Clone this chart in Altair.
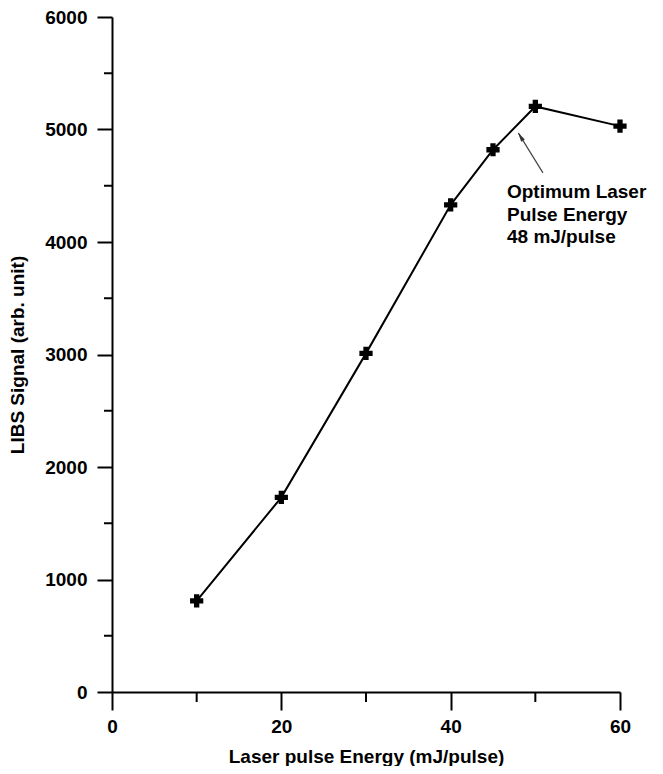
import altair as alt
import pandas as pd

# Data
energy = [10, 20, 30, 40, 45, 50, 60]
signal = [810, 1730, 3010, 4330, 4820, 5205, 5030]

x_major = [0, 20, 40, 60]
x_minor = [10, 30, 50]
y_major = [0, 1000, 2000, 3000, 4000, 5000, 6000]
y_minor = [500, 1500, 2500, 3500, 4500, 5500]

annot_lines = ["Optimum Laser", "Pulse Energy", "48 mJ/pulse"]
annot_x = [46.65]
annot_y = [4390]
arrow_start = [50.9, 4615]
arrow_tip = [48.0, 4968]

FONT = "Liberation Sans"
W, H = 508, 675

df = pd.DataFrame({"energy": energy, "signal": signal})

xscale = alt.Scale(domain=[0, 60], nice=False, zero=False)
yscale = alt.Scale(domain=[0, 6000], nice=False, zero=False)

xaxis = alt.Axis(
    values=x_major, ticks=True, tickSize=18, tickWidth=2, tickColor="black",
    domainColor="black", domainWidth=2, grid=False, labelFlush=False,
    labelFont=FONT, labelFontSize=19, labelFontWeight="bold", labelColor="black",
    labelPadding=7, format="d",
    title="Laser pulse Energy (mJ/pulse)", titleFont=FONT, titleFontSize=19,
    titleFontWeight="bold", titleColor="black", titleY=70, titleBaseline="alphabetic",
)
yaxis = alt.Axis(
    values=y_major, ticks=True, tickSize=15, tickWidth=2, tickColor="black",
    domainColor="black", domainWidth=2, grid=False, labelFlush=False,
    labelFont=FONT, labelFontSize=19, labelFontWeight="bold", labelColor="black",
    labelPadding=10, format="d",
    title="LIBS Signal (arb. unit)", titleFont=FONT, titleFontSize=19,
    titleFontWeight="bold", titleColor="black", titleX=-89, titleBaseline="alphabetic",
    titleAngle=270,
)

line = alt.Chart(df).mark_line(color="black", strokeWidth=2).encode(
    x=alt.X("energy:Q", scale=xscale, axis=xaxis),
    y=alt.Y("signal:Q", scale=yscale, axis=yaxis),
)
pts = alt.Chart(df).mark_point(shape="cross", filled=True, color="black", size=175, opacity=1).encode(
    x=alt.X("energy:Q", scale=xscale, axis=xaxis),
    y=alt.Y("signal:Q", scale=yscale, axis=yaxis),
)

xminor = alt.Chart(pd.DataFrame({"v": x_minor})).mark_rule(color="black", strokeWidth=2).encode(
    x=alt.X("v:Q", scale=xscale, axis=xaxis),
    y=alt.value(H), y2=alt.value(H + 10),
)
yminor = alt.Chart(pd.DataFrame({"v": y_minor})).mark_rule(color="black", strokeWidth=2).encode(
    y=alt.Y("v:Q", scale=yscale, axis=yaxis),
    x=alt.value(-8), x2=alt.value(0),
)

arrow_df = pd.DataFrame({"x": [arrow_start[0]], "y": [arrow_start[1]],
                         "x2": [arrow_tip[0]], "y2": [arrow_tip[1]]})
arrow_line = alt.Chart(arrow_df).mark_rule(color="#444444", strokeWidth=1.2).encode(
    x=alt.X("x:Q", scale=xscale, axis=xaxis), y=alt.Y("y:Q", scale=yscale, axis=yaxis),
    x2="x2:Q", y2="y2:Q",
)
arrow_head = alt.Chart(arrow_df).mark_point(
    shape="M0,-1 L-0.45,1 L0.45,1 Z", filled=True, color="#333333", size=90,
    angle=328, opacity=1, xOffset=2.1, yOffset=3.4,
).encode(
    x=alt.X("x2:Q", scale=xscale, axis=xaxis), y=alt.Y("y2:Q", scale=yscale, axis=yaxis),
)

annot_df = pd.DataFrame({"x": annot_x, "y": annot_y, "t": [annot_lines]})
annot = alt.Chart(annot_df).mark_text(
    align="left", baseline="alphabetic", font=FONT, fontSize=19, fontWeight="bold",
    color="black", lineHeight=22.5,
).encode(
    x=alt.X("x:Q", scale=xscale, axis=xaxis), y=alt.Y("y:Q", scale=yscale, axis=yaxis), text="t",
)

chart = alt.layer(line, xminor, yminor, arrow_line, arrow_head, pts, annot).properties(
    width=W, height=H,
    autosize=alt.AutoSizeParams(type="none"),
    padding={"left": 104, "top": 9, "right": 35, "bottom": 74},
    background="white",
).configure_view(stroke=None)

chart.save("out.html", embed_options={"renderer": "svg", "actions": False})
